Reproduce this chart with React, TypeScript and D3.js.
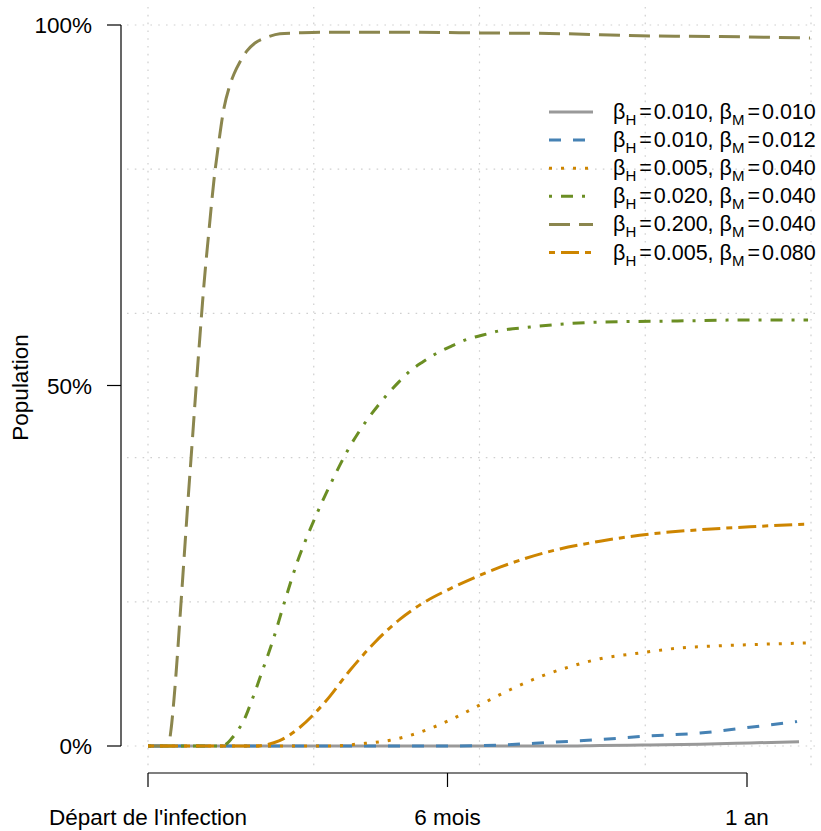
import React from "react";
import * as d3 from "d3";

// ---- Data ----
const xTickDays = [0, 182.5, 365];
const xTickLabels = ["Départ de l'infection", "6 mois", "1 an"];
const yTickValues = [0, 50, 100];
const yTickLabels = ["0%", "50%", "100%"];
const gridXDays = [0, 101, 202, 303, 404];
const gridYValues = [0, 20, 40, 60, 80, 100];

const betaH = ["0.010", "0.010", "0.005", "0.020", "0.200", "0.005"];
const betaM = ["0.010", "0.012", "0.040", "0.040", "0.040", "0.080"];

const s1Days = [0, 251, 275.4, 305.9, 336.4, 366.8, 396.7];
const s1Vals = [0, 0, 0.07, 0.14, 0.24, 0.42, 0.6];

const s2Days = [0, 184, 214.5, 245, 275.4, 305.9, 336.4, 366.8, 395.5];
const s2Vals = [0, 0, 0.14, 0.5, 0.9, 1.4, 1.8, 2.6, 3.4];

const s3Days = [0, 110.9, 129.2, 147.5, 165.7, 184, 202.3, 220.6, 238.9, 257.1, 275.4, 299.8, 324.2, 348.5, 372.9, 402.2];
const s3Vals = [0, 0, 0.3, 0.8, 1.9, 3.6, 5.7, 7.8, 9.6, 11.0, 12.1, 12.9, 13.6, 13.9, 14.1, 14.3];

const s4Days = [0, 45.1, 51.2, 54.8, 58.5, 63.4, 69.5, 76.2, 83.5, 91.4, 98.7, 106.6, 113.3, 121.9, 128.6, 133.4, 140.1, 145.6, 152.9, 159.6, 167.6, 176.1, 185.2, 194.4, 204.1, 214.5, 232.8, 251.1, 275.4, 305.9, 336.4, 366.8, 402.2];
const s4Vals = [0, 0, 1.1, 2.2, 3.6, 6.4, 10.3, 14.7, 20.2, 25.8, 30.0, 34.1, 37.3, 41.1, 43.6, 45.2, 47.2, 48.7, 50.5, 52.0, 53.3, 54.5, 55.5, 56.4, 57.0, 57.6, 58.1, 58.5, 58.8, 58.9, 59.0, 59.1, 59.1];

const s5Days = [0, 12.2, 14.0, 15.8, 17.7, 19.5, 21.9, 24.4, 26.8, 29.2, 31.7, 34.1, 37.2, 40.2, 43.3, 46.3, 49.4, 52.4, 56.1, 60.3, 65.2, 72.5, 80.4, 90.8, 106.6, 153.6, 202.3, 251.1, 299.8, 348.5, 403.4];
const s5Vals = [0, 0, 2.2, 6.4, 11.9, 17.8, 25.8, 34.1, 41.7, 49.4, 57.0, 64.0, 71.6, 78.5, 84.0, 88.5, 91.3, 93.2, 94.9, 96.4, 97.5, 98.3, 98.8, 98.9, 99.0, 99.0, 98.9, 98.8, 98.5, 98.4, 98.2];

const s6Days = [0, 67, 70.1, 79.8, 92.6, 107.9, 123.1, 138.3, 153.6, 168.8, 184.0, 199.3, 214.5, 245.0, 275.4, 305.9, 336.4, 366.8, 402.2];
const s6Vals = [0, 0, 0.1, 0.7, 2.6, 6.1, 10.5, 14.4, 17.6, 20.0, 21.8, 23.4, 24.8, 27.0, 28.4, 29.4, 30.0, 30.4, 30.8];

const seriesDays = [s1Days, s2Days, s3Days, s4Days, s5Days, s6Days];
const seriesVals = [s1Vals, s2Vals, s3Vals, s4Vals, s5Vals, s6Vals];

// ---- Styles ----
const colors = ["#999999", "#4682B4", "#CD8500", "#6B8E23", "#8B864E", "#CD8500"];
const dashes = ["none", "12 12", "3 9", "3 9 12 9", "21 9", "6 6 18 6"];
const FONT = "'Liberation Sans', Arial, Helvetica, sans-serif";

export default function App() {
  const W = 821, H = 831;
  const x = d3.scaleLinear().domain([0, 365]).range([148, 747]);
  const y = d3.scaleLinear().domain([0, 100]).range([746, 25]);
  const line = d3
    .line<[number, number]>()
    .x((d) => x(d[0]))
    .y((d) => y(d[1]))
    .curve(d3.curveMonotoneX);

  const gridLeft = 127, gridRight = 818, gridTop = 7, gridBottom = 768;
  const axisX = 121, xAxisY = 773;
  const legX0 = 549, legX1 = 593, legTextX = 613, legY0 = 112, legDy = 28.1;
  const eqGap = 3;

  return (
    <div style={{ position: "absolute", left: 0, top: 0 }}>
      <svg width={W} height={H} style={{ display: "block", background: "#fff" }} fontFamily={FONT}>
        {/* grid */}
        <g stroke="#cfcfcf" strokeWidth={1.2} strokeDasharray="1.6 6.2" fill="none">
          {gridXDays.map((d, i) => (
            <line key={"gx" + i} x1={x(d)} x2={x(d)} y1={gridTop} y2={gridBottom} />
          ))}
          {gridYValues.map((v, i) => (
            <line key={"gy" + i} x1={gridLeft} x2={gridRight} y1={y(v)} y2={y(v)} />
          ))}
        </g>

        {/* series */}
        {seriesDays.map((days, i) => {
          const pts = days.map((d, j) => [d, seriesVals[i][j]] as [number, number]);
          return (
            <path
              key={"s" + i}
              d={line(pts) || ""}
              fill="none"
              stroke={colors[i]}
              strokeWidth={3}
              strokeDasharray={dashes[i]}
              strokeLinecap="butt"
              strokeLinejoin="round"
            />
          );
        })}

        {/* y axis */}
        <g stroke="#000" strokeWidth={1.2}>
          <line x1={axisX} x2={axisX} y1={y(100)} y2={y(0)} />
          {yTickValues.map((v, i) => (
            <line key={"yt" + i} x1={axisX - 14} x2={axisX} y1={y(v)} y2={y(v)} />
          ))}
        </g>
        {yTickValues.map((v, i) => (
          <text key={"yl" + i} x={92} y={y(v) + 8} fontSize={22.5} textAnchor="end" fill="#000">
            {yTickLabels[i]}
          </text>
        ))}
        <text
          transform={`translate(28, ${y(50) + 2}) rotate(-90)`}
          fontSize={22.5}
          textAnchor="middle"
          fill="#000"
        >
          Population
        </text>

        {/* x axis */}
        <g stroke="#000" strokeWidth={1.2}>
          <line x1={x(xTickDays[0])} x2={x(xTickDays[xTickDays.length - 1])} y1={xAxisY} y2={xAxisY} />
          {xTickDays.map((d, i) => (
            <line key={"xt" + i} x1={x(d)} x2={x(d)} y1={xAxisY} y2={xAxisY + 14} />
          ))}
        </g>
        {xTickDays.map((d, i) => (
          <text key={"xl" + i} x={x(d)} y={825} fontSize={22.5} textAnchor="middle" fill="#000">
            {xTickLabels[i]}
          </text>
        ))}

        {/* legend */}
        {betaH.map((bh, i) => {
          const yy = legY0 + i * legDy;
          return (
            <g key={"lg" + i}>
              <line
                x1={legX0}
                x2={legX1}
                y1={yy}
                y2={yy}
                stroke={colors[i]}
                strokeWidth={3}
                strokeDasharray={dashes[i]}
              />
              <text x={legTextX} y={yy + 7} fontSize={21.5} fill="#000">
                <tspan>β</tspan>
                <tspan dy={6} fontSize={15}>H</tspan>
                <tspan dy={-6} dx={eqGap}>=</tspan>
                <tspan dx={eqGap - 1}>{bh}, β</tspan>
                <tspan dy={6} fontSize={15}>M</tspan>
                <tspan dy={-6} dx={eqGap}>=</tspan>
                <tspan dx={eqGap - 1}>{betaM[i]}</tspan>
              </text>
            </g>
          );
        })}
      </svg>
    </div>
  );
}
